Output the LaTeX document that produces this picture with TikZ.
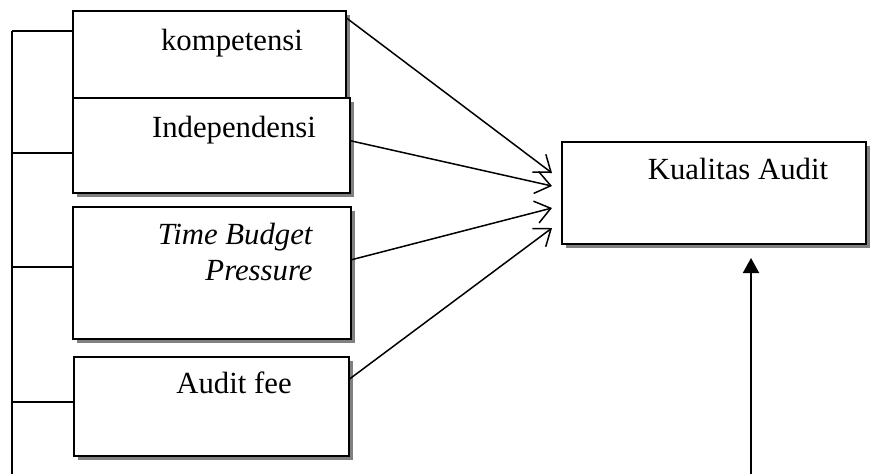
\documentclass[tikz,border=0pt]{standalone}
\usepackage{fontspec}
\setmainfont{Liberation Serif}
\usetikzlibrary{arrows.meta,shadows}
\tikzset{
varbox/.style={
  rectangle,
  draw,
  fill=white,
  line width=0.6pt,
  inner sep=0pt,
  anchor=north west,
  drop shadow={shadow xshift=1.8pt,shadow yshift=-1.8pt,fill=gray,opacity=1}
},
boxtext/.style={inner sep=0pt,anchor=base,font=\fontsize{12.3}{14.4}\selectfont},
inarrow/.style={line width=0.6pt,-{Straight Barb[length=6pt,width=9pt]}},
uparrow/.style={line width=0.8pt,-{Triangle[length=6pt,width=6.4pt]}},
spine/.style={line width=0.6pt}
}
\begin{document}
\begin{tikzpicture}[x=0.4pt,y=-0.4pt]
\useasboundingbox (0,0) rectangle (877,474);
% the variable boxes
\node (komp) [varbox,minimum width=109.2pt,minimum height=42.8pt] at (72,10) {};
\node (indep) [varbox,minimum width=110.8pt,minimum height=38pt] at (72,97) {};
\node (tbp) [varbox,minimum width=111.2pt,minimum height=52.8pt] at (72,206) {};
\node (fee) [varbox,minimum width=110pt,minimum height=39.6pt] at (73,356) {};
\node (kual) [varbox,minimum width=121.6pt,minimum height=40.8pt] at (561,141) {};
% the box texts
\node (kompT) [boxtext] at (232,50) {kompetensi};
\node (indepT) [boxtext] at (234,137) {Independensi};
\node (tbpT) [boxtext,anchor=base east,align=right,font=\fontsize{12.3}{14.4}\selectfont\itshape] at (313,280) {Time Budget\\Pressure};
\node (feeT) [boxtext] at (234,393) {Audit fee};
\node (kualT) [boxtext] at (738,179) {Kualitas Audit};
% the left bracket
\coordinate (top) at (12,31);
\coordinate (bot) at (12,474);
\draw[spine] (top) -- (bot);
\foreach \y/\b in {31/komp,153/indep,267/tbp,402/fee}
{
  \coordinate (s\b) at (12,\y);
  \draw[spine] (s\b) -- (s\b -| \b.west);
  }
% the arrows
\coordinate (t1) at (552,173);
\coordinate (t2) at (552,186);
\coordinate (t3) at (552,208);
\coordinate (t4) at (552,228);
\draw[inarrow] ([yshift=-3.2pt]komp.north east) -- (t1);
\draw[inarrow] ([yshift=1.8pt]indep.east) -- (t2);
\draw[inarrow] ([yshift=5.2pt]tbp.east) -- (t3);
\draw[inarrow] ([yshift=-9.2pt]fee.north east) -- (t4);
\coordinate (b0) at (751,474);
\coordinate (b1) at (751,258);
\draw[uparrow] (b0) -- (b1);
\end{tikzpicture}
\end{document}
